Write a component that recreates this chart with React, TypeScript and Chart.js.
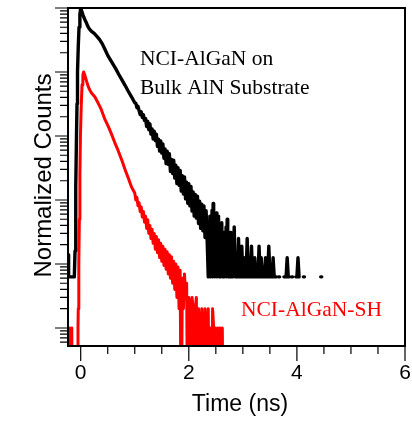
import React, { useEffect, useRef } from "react";
import { Chart, registerables } from "chart.js";

Chart.register(...registerables);

// ---- axis settings ----
const xMin = -0.235;
const xMax = 6;
const yMin = 5.23e-6;
const yMax = 1;
const xMajorTicks = [0, 2, 4, 6];
const xMinorTicks = [0.5, 1, 1.5, 2.5, 3, 3.5, 4.5, 5, 5.5];
const yDecades = [1e-6, 1e-5, 1e-4, 1e-3, 1e-2, 1e-1, 1];
const yMinorSteps = [2, 3, 4, 5, 6, 7, 8, 9];

const xTitle = "Time (ns)";
const yTitle = "Normalized Counts";
const blackLabel = ["NCI-AlGaN on", "Bulk AlN Substrate"];
const redLabel = "NCI-AlGaN-SH";

// ---- NCI-AlGaN on Bulk AlN Substrate (black) ----
const blackTime = [
  -0.234, -0.226, -0.222, -0.2, -0.18, -0.16, -0.14, -0.118,
  -0.105, -0.096, -0.087, -0.078, -0.068, -0.059, -0.045, -0.031, -0.015, 0,
  0.02, 0.04, 0.06, 0.08, 0.1, 0.13, 0.16, 0.2, 0.25, 0.3, 0.35, 0.4, 0.45, 0.5,
  0.55, 0.6, 0.65, 0.7, 0.76, 0.82, 0.88, 0.94, 1.0,
  1.02, 1.04, 1.06, 1.08, 1.1, 1.12, 1.14, 1.16, 1.18, 1.2,
  1.22, 1.24, 1.26, 1.28, 1.3, 1.32, 1.34, 1.36, 1.38, 1.4,
  1.42, 1.44, 1.46, 1.48, 1.5, 1.52, 1.54, 1.56, 1.58, 1.6,
  1.62, 1.64, 1.66, 1.68, 1.7, 1.72, 1.74, 1.76, 1.78, 1.8,
  1.82, 1.84, 1.86, 1.88, 1.9, 1.92, 1.94, 1.96, 1.98, 2.0,
  2.02, 2.04, 2.06, 2.08, 2.1, 2.12, 2.14, 2.16, 2.18, 2.2,
  2.22, 2.24, 2.26, 2.28, 2.3, 2.32, 2.34,
  2.36, 2.37, 2.38, 2.39, 2.4, 2.41, 2.42, 2.43, 2.44, 2.45,
  2.46, 2.47, 2.48, 2.49, 2.5, 2.51, 2.52, 2.53, 2.54, 2.55,
  2.56, 2.57, 2.58, 2.59, 2.6, 2.61, 2.62, 2.63, 2.64, 2.65,
  2.66, 2.67, 2.68, 2.69, 2.7, 2.71, 2.72, 2.73, 2.74, 2.75,
  2.76, 2.77, 2.78, 2.79, 2.8,
  2.82, 2.84, 2.86, 2.88, 2.9, 2.92, 2.94,
  2.96, 2.98, 3.0, 3.02, 3.04, 3.06, 3.08, 3.1, 3.12, 3.14,
  3.16, 3.18, 3.2, 3.22, 3.24, 3.26, 3.28, 3.3, 3.32, 3.34,
  3.36, 3.38, 3.4, 3.42, 3.44, 3.46, 3.48, 3.5, 3.52, 3.54,
  3.56, 3.58, 3.6, 3.62,
  3.64, 3.66, 3.68, 3.7, 3.76, 3.78, 3.8, 3.82, 3.84, 3.86,
  3.88, 3.9, 3.92, 3.94, 3.98, 4.0, 4.02, 4.04, 4.06, 4.12,
  4.14, 4.16, 4.44, 4.46,
];
const blackValues = [
  1.4e-4, 1.4e-4, 6.3e-5, 6.3e-5, 6.3e-5, 6.3e-5, 6.3e-5, 6.3e-5,
  1.6e-4, 3.2e-4, 1.6e-3, 1.0e-2, 3.2e-2, 0.1, 0.25, 0.5, 0.79, 1.0,
  0.89, 0.79, 0.71, 0.65, 0.6, 0.52, 0.47, 0.43, 0.4, 0.36, 0.32, 0.275, 0.224, 0.182,
  0.155, 0.132, 0.112, 0.093, 0.076, 0.062, 0.05, 0.041, 0.033,
  0.0324, 0.0277, 0.0291, 0.0249, 0.0217, 0.0239, 0.0195, 0.0214, 0.0175, 0.0188,
  0.014, 0.0169, 0.0125, 0.0155, 0.0107, 0.0129, 0.009, 0.0119, 0.0085, 0.0107,
  0.0069, 0.0089, 0.0058, 0.0084, 0.0054, 0.0075, 0.0045, 0.0063, 0.0037, 0.0058,
  0.0036, 0.0053, 0.0028, 0.0043, 0.0026, 0.0042, 0.0022, 0.0035, 0.0018, 0.0032,
  0.0017, 0.0029, 0.00138, 0.0024, 0.00124, 0.0023, 0.00104, 0.0019, 0.00089, 0.0018,
  0.00081, 0.00163, 0.00067, 0.00134, 0.00056, 0.00122, 0.00052, 0.00115, 0.00043, 0.00096,
  0.00036, 0.00086, 0.00033, 0.00081, 0.00026, 0.00068, 0.00023,
  6.3e-5, 3.8e-4, 1.25e-4, 5.6e-4, 6.3e-5, 4.4e-4, 1.9e-4, 6.9e-4, 6.3e-5, 8.8e-4,
  1.25e-4, 5.0e-4, 6.3e-5, 3.8e-4, 1.9e-4, 6.3e-4, 6.3e-5, 3.1e-4, 1.25e-4, 5.6e-4,
  6.3e-5, 2.5e-4, 6.3e-5, 3.8e-4, 1.25e-4, 4.4e-4, 6.3e-5, 1.9e-4, 6.3e-5, 3.1e-4,
  6.3e-5, 2.5e-4, 1.25e-4, 3.8e-4, 6.3e-5, 5.0e-4, 1.9e-4, 6.3e-5, 2.5e-4, 6.3e-5,
  1.25e-4, 3.1e-4, 6.3e-5, 1.9e-4, 6.3e-5,
  6.3e-5, 3.8e-4, 6.3e-5, 1.25e-4, 6.3e-5, 2.5e-4, 6.3e-5,
  6.3e-5, 1.9e-4, 6.3e-5, 1.25e-4, 6.3e-5, 6.3e-5, 2.5e-4, 6.3e-5, 1.25e-4, 6.3e-5,
  1.9e-4, 6.3e-5, 6.3e-5, 1.25e-4, 6.3e-5, 6.3e-5, 6.3e-5, 1.9e-4, 6.3e-5, 1.25e-4,
  6.3e-5, 6.3e-5, 6.3e-5, 1.25e-4, 6.3e-5, 6.3e-5, 1.9e-4, 6.3e-5, 6.3e-5, 6.3e-5,
  1.25e-4, 6.3e-5, 6.3e-5, 6.3e-5,
  null, 6.3e-5, 6.3e-5, null, 6.3e-5, 6.3e-5, 6.3e-5, 1.25e-4, 6.3e-5, 6.3e-5,
  null, 6.3e-5, 6.3e-5, null, 6.3e-5, 6.3e-5, 1.25e-4, 6.3e-5, null, 6.3e-5,
  6.3e-5, null, 6.3e-5, 6.3e-5,
];

// ---- NCI-AlGaN-SH (red); 1e-7 marks an empty (zero-count) bin ----
const redTime = [
  -0.234, -0.205, -0.2, -0.195, -0.17, -0.165, -0.16, -0.065,
  -0.05, -0.045, -0.035, -0.025, -0.015, -0.005, 0.01, 0.025, 0.04, 0.055,
  0.08, 0.11, 0.14, 0.17, 0.2, 0.26, 0.32, 0.38, 0.45, 0.51, 0.57, 0.63, 0.69,
  0.76, 0.82, 0.88, 0.94,
  1.0, 1.02, 1.04, 1.06, 1.08, 1.1, 1.12, 1.14, 1.16, 1.18,
  1.2, 1.22, 1.24, 1.26, 1.28, 1.3, 1.32, 1.34, 1.36, 1.38,
  1.4, 1.42, 1.44, 1.46, 1.48, 1.5, 1.52, 1.54, 1.56, 1.58, 1.6,
  1.62, 1.64, 1.66, 1.68, 1.7, 1.72, 1.74, 1.76, 1.78, 1.8,
  1.82, 1.84, 1.86, 1.88, 1.9, 1.92, 1.94, 1.96, 1.98,
  2.0, 2.02, 2.04, 2.06, 2.08, 2.1, 2.12, 2.14, 2.16, 2.18,
  2.2, 2.22, 2.24, 2.26, 2.28, 2.3, 2.32, 2.34, 2.36, 2.38,
  2.4, 2.42, 2.44, 2.46, 2.48, 2.5, 2.52, 2.54, 2.56, 2.58,
  2.6, 2.62, 2.64,
];
const redValues = [
  1e-7, 1e-7, 1e-5, 1e-7, 1e-7, 1e-5, 1e-7, 1e-7,
  1e-5, 2e-5, 1e-4, 5e-4, 2.5e-3, 0.01, 0.03, 0.063, 0.09, 0.1,
  0.087, 0.071, 0.059, 0.052, 0.047, 0.041, 0.033, 0.026, 0.018, 0.0141, 0.0107, 0.0079, 0.006,
  0.0042, 0.003, 0.0022, 0.0016,
  1.29e-3, 1.0e-3, 1.1e-3, 8.1e-4, 9.1e-4, 6.6e-4, 7.8e-4, 5.4e-4, 6.6e-4, 4.5e-4,
  5.6e-4, 3.6e-4, 4.9e-4, 3.0e-4, 4.0e-4, 2.5e-4, 3.5e-4, 2.1e-4, 3.0e-4, 1.7e-4,
  2.7e-4, 1.5e-4, 2.4e-4, 1.26e-4, 2.1e-4, 1.1e-4, 1.9e-4, 9.5e-5, 1.7e-4, 8.3e-5, 1.55e-4,
  7e-5, 1.4e-4, 6e-5, 1.3e-4, 5e-5, 1.1e-4, 4e-5, 1.0e-4, 3e-5, 9e-5,
  2e-5, 8e-5, 1e-7, 6e-5, 2e-5, 7e-5, 3e-5, 5e-5, 1e-7,
  3e-5, 2e-5, 1e-7, 3e-5, 2e-5, 1e-7, 2e-5, 3e-5, 1e-7, 2e-5,
  1e-5, 1e-7, 2e-5, 1e-5, 1e-7, 2e-5, 1e-7, 1e-5, 2e-5, 1e-7,
  1e-5, 1e-7, 2e-5, 1e-5, 1e-7, 1e-5, 1e-7, 1e-5, 1e-7, 1e-5,
  1e-7, 1e-5, 1e-7,
];

const SANS = "'Liberation Sans', Arial, Helvetica, sans-serif";
const SERIF = "'Liberation Serif', 'Times New Roman', Times, serif";

const framePlugin = {
  id: "frameAxes",
  afterDraw(chart: any) {
    const { ctx, chartArea: a, scales } = chart;
    const xs = scales.x;
    const ys = scales.y;
    ctx.save();
    ctx.strokeStyle = "#000";
    ctx.fillStyle = "#000";

    // ticks
    ctx.lineWidth = 1.2;
    ctx.beginPath();
    for (const v of xMajorTicks) {
      const px = xs.getPixelForValue(v);
      ctx.moveTo(px, a.bottom);
      ctx.lineTo(px, a.bottom + 15);
    }
    for (const v of xMinorTicks) {
      const px = xs.getPixelForValue(v);
      ctx.moveTo(px, a.bottom);
      ctx.lineTo(px, a.bottom + 8);
    }
    for (const d of yDecades) {
      if (d >= yMin && d <= yMax) {
        const py = ys.getPixelForValue(d);
        ctx.moveTo(a.left, py);
        ctx.lineTo(a.left - 13, py);
      }
      for (const m of yMinorSteps) {
        const v = d * m;
        if (v < yMin || v > yMax) continue;
        const py = ys.getPixelForValue(v);
        ctx.moveTo(a.left, py);
        ctx.lineTo(a.left - 8, py);
      }
    }
    ctx.stroke();

    // frame
    ctx.lineWidth = 2;
    ctx.strokeRect(a.left, a.top, a.right - a.left, a.bottom - a.top);

    // x tick labels
    ctx.font = `21px ${SANS}`;
    ctx.textAlign = "center";
    ctx.textBaseline = "alphabetic";
    for (const v of xMajorTicks) {
      ctx.fillText(String(v), xs.getPixelForValue(v), a.bottom + 32.5);
    }

    // axis titles
    ctx.font = `23px ${SANS}`;
    ctx.fillText(xTitle, 240, a.bottom + 65);
    ctx.save();
    ctx.font = `24px ${SANS}`;
    ctx.translate(51, 175.5);
    ctx.rotate(-Math.PI / 2);
    ctx.fillText(yTitle, 0, 0);
    ctx.restore();

    // annotations
    ctx.textAlign = "left";
    ctx.font = `21.5px ${SERIF}`;
    ctx.fillStyle = "#000";
    ctx.fillText(blackLabel[0], 140, 65);
    ctx.fillText(blackLabel[1], 140, 93.5);
    ctx.fillStyle = "#ff0000";
    ctx.fillText(redLabel, 241, 316);

    ctx.restore();
  },
};

export default function App() {
  const canvasRef = useRef<HTMLCanvasElement | null>(null);

  useEffect(() => {
    const canvas = canvasRef.current;
    if (!canvas) return;
    const blackPoints = blackTime.map((t, i) => ({ x: t, y: blackValues[i] }));
    const redPoints = redTime.map((t, i) => ({ x: t, y: redValues[i] }));
    const chart = new Chart(canvas, {
      type: "line",
      data: {
        datasets: [
          {
            label: blackLabel.join(" "),
            data: blackPoints as any,
            borderColor: "#000000",
            borderWidth: 3.4,
            pointRadius: 0,
            pointHitRadius: 0,
            tension: 0,
            borderJoinStyle: "round",
            borderCapStyle: "round",
            spanGaps: false,
            clip: 0,
          },
          {
            label: redLabel,
            data: redPoints as any,
            borderColor: "#ff0000",
            borderWidth: 3,
            pointRadius: 0,
            pointHitRadius: 0,
            tension: 0,
            borderJoinStyle: "round",
            borderCapStyle: "round",
            spanGaps: false,
            clip: 0,
          },
        ],
      },
      options: {
        animation: false,
        responsive: false,
        devicePixelRatio: 1,
        events: [],
        layout: { padding: { left: 68, top: 8, right: 7, bottom: 80 } },
        plugins: {
          legend: { display: false },
          tooltip: { enabled: false },
        },
        scales: {
          x: { type: "linear", min: xMin, max: xMax, display: false },
          y: { type: "logarithmic", min: yMin, max: yMax, display: false },
        },
      } as any,
      plugins: [framePlugin],
    });
    return () => chart.destroy();
  }, []);

  return (
    <div style={{ position: "fixed", left: 0, top: 0, width: 412, height: 426, background: "#fff" }}>
      <canvas ref={canvasRef} width={412} height={426} style={{ display: "block" }} />
    </div>
  );
}
